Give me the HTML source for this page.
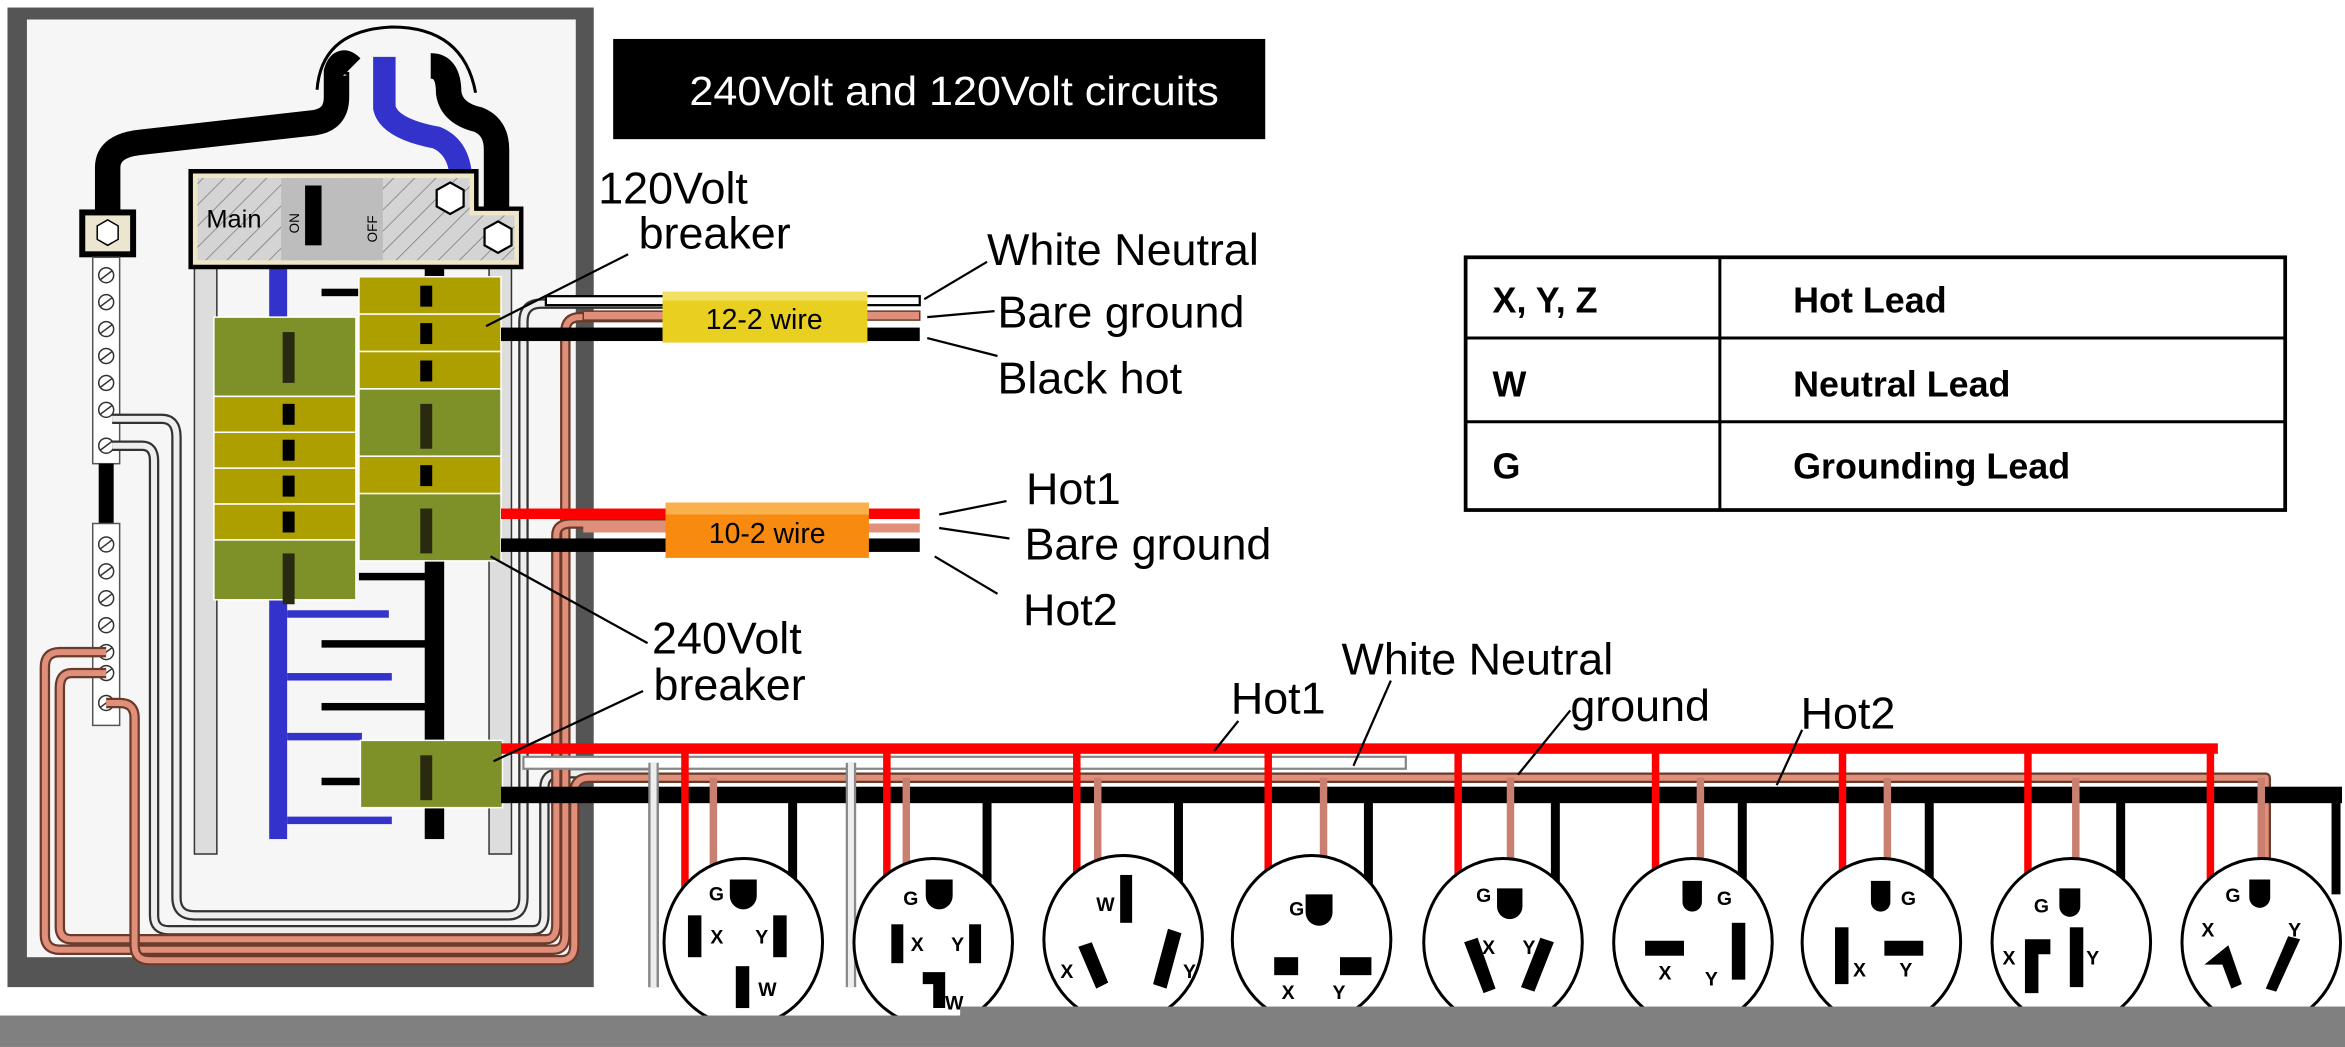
<!DOCTYPE html>
<html><head><meta charset="utf-8"><style>
html,body{margin:0;padding:0;background:#fff;}
svg{display:block;}
text{font-family:"Liberation Sans",sans-serif;}
</style></head><body>
<svg width="2345" height="1047" viewBox="0 0 1568 700" xmlns="http://www.w3.org/2000/svg">
<defs>
<pattern id="h" width="10" height="10" patternUnits="userSpaceOnUse" patternTransform="rotate(45)"><rect width="10" height="10" fill="#d4d4d4"/><line x1="0" y1="0" x2="0" y2="10" stroke="#777" stroke-width="1"/></pattern>
</defs>
<rect width="1568" height="700" fill="#fff"/>
<!-- panel -->
<rect x="5" y="5" width="392" height="655" fill="#555"/>
<rect x="18" y="13" width="367" height="627" fill="#f6f6f6"/>
<!-- service cables -->
<path d="M212 60 Q215 20 262 18 Q310 18 318 62" fill="none" stroke="#000" stroke-width="2"/>
<path d="M72 142 L72 112 Q72 97 95 95 L210 82 Q225 80 225 65 L225 48 Q228 38 235 45" fill="none" stroke="#000" stroke-width="17"/>
<path d="M288 44 Q300 44 300 62 Q302 76 320 80 Q332 85 332 100 L332 146" fill="none" stroke="#000" stroke-width="17"/>
<path d="M257 38 L257 72 Q260 86 292 92 Q306 98 308 116" fill="none" stroke="#33c" stroke-width="15"/>
<!-- rails -->
<rect x="130" y="178" width="15" height="393" fill="#ddd" stroke="#333"/>
<rect x="327" y="178" width="15" height="393" fill="#ddd" stroke="#333"/>
<rect x="180" y="178" width="12" height="383" fill="#33c"/>
<rect x="284" y="178" width="13" height="383" fill="#000"/>
<g fill="#33c"><rect x="192" y="408" width="68" height="5"/><rect x="192" y="450" width="70" height="5"/><rect x="192" y="490" width="50" height="5"/><rect x="192" y="546" width="70" height="5"/></g>
<g fill="#000"><rect x="215" y="193" width="70" height="5"/><rect x="215" y="428" width="70" height="5"/><rect x="215" y="470" width="70" height="5"/><rect x="215" y="520" width="30" height="5"/><rect x="240" y="383" width="45" height="5"/></g>
<!-- main breaker -->
<path d="M126 113 H320 V138 H350 V180 H126Z" fill="#000"/>
<path d="M129 116 H317 V141 H347 V177 H129Z" fill="#efe6c8"/>
<path d="M132 119 H314 V144 H344 V174 H132Z" fill="url(#h)"/>
<rect x="188" y="119" width="68" height="55" fill="#bdbdbd"/>
<rect x="204" y="124" width="11" height="40" fill="#000"/>
<text x="138" y="152" font-size="17">Main</text>
<text x="200" y="156" font-size="9" transform="rotate(-90 200 156)">ON</text>
<text x="252" y="162" font-size="9" transform="rotate(-90 252 162)">OFF</text>
<polygon points="301,122 310,127 310,138 301,143 292,138 292,127" fill="#fff" stroke="#000" stroke-width="1.5"/>
<polygon points="333,148 342,153 342,164 333,169 324,164 324,153" fill="#fff" stroke="#000" stroke-width="1.5"/>
<!-- neutral bars -->
<rect x="53" y="140" width="38" height="32" fill="#000"/>
<rect x="57" y="144" width="30" height="24" fill="#ece6d0"/>
<polygon points="72,147 79,151 79,160 72,164 65,160 65,151" fill="#fff" stroke="#000"/>
<rect x="62" y="172" width="18" height="138" fill="#fff" stroke="#555"/>
<rect x="66" y="310" width="10" height="40" fill="#000"/>
<rect x="62" y="350" width="18" height="135" fill="#fff" stroke="#555"/>
<g fill="#fff" stroke="#333"><circle cx="71" cy="184" r="5"/><circle cx="71" cy="202" r="5"/><circle cx="71" cy="220" r="5"/><circle cx="71" cy="238" r="5"/><circle cx="71" cy="256" r="5"/><circle cx="71" cy="274" r="5"/><circle cx="71" cy="298" r="5"/><circle cx="71" cy="364" r="5"/><circle cx="71" cy="382" r="5"/><circle cx="71" cy="400" r="5"/><circle cx="71" cy="418" r="5"/><circle cx="71" cy="436" r="5"/><circle cx="71" cy="450" r="5"/><circle cx="71" cy="470" r="5"/></g>
<g stroke="#333" stroke-width="1"><line x1="67" y1="187" x2="75" y2="181"/><line x1="67" y1="205" x2="75" y2="199"/><line x1="67" y1="223" x2="75" y2="217"/><line x1="67" y1="241" x2="75" y2="235"/><line x1="67" y1="259" x2="75" y2="253"/><line x1="67" y1="277" x2="75" y2="271"/><line x1="67" y1="301" x2="75" y2="295"/><line x1="67" y1="367" x2="75" y2="361"/><line x1="67" y1="385" x2="75" y2="379"/><line x1="67" y1="403" x2="75" y2="397"/><line x1="67" y1="421" x2="75" y2="415"/><line x1="67" y1="439" x2="75" y2="433"/><line x1="67" y1="453" x2="75" y2="447"/><line x1="67" y1="473" x2="75" y2="467"/></g>
<!-- panel wiring loops -->
<g fill="none" stroke-linejoin="round">
<path d="M75 280 L108 280 Q118 280 118 292 L118 600 Q118 612 130 612 L340 612 Q350 612 350 600 L350 215 Q350 203 362 203 L450 203" stroke="#333" stroke-width="7"/>
<path d="M75 280 L108 280 Q118 280 118 292 L118 600 Q118 612 130 612 L340 612 Q350 612 350 600 L350 215 Q350 203 362 203 L450 203" stroke="#eee" stroke-width="4"/>
<path d="M75 298 L95 298 Q103 298 103 308 L103 612 Q103 622 113 622 L356 622 Q364 622 364 612 L364 527 Q364 517 374 517 L437 517 L437 660" stroke="#333" stroke-width="7"/>
<path d="M75 298 L95 298 Q103 298 103 308 L103 612 Q103 622 113 622 L356 622 Q364 622 364 612 L364 527 Q364 517 374 517 L437 517 L437 660" stroke="#eee" stroke-width="4"/>
<path d="M71 436 L40 436 Q30 436 30 446 L30 625 Q30 635 40 635 L370 635 Q378 635 378 625 L378 222 Q378 212 388 212 L450 212" stroke="#6a3a2a" stroke-width="7"/>
<path d="M71 436 L40 436 Q30 436 30 446 L30 625 Q30 635 40 635 L370 635 Q378 635 378 625 L378 222 Q378 212 388 212 L450 212" stroke="#e0907a" stroke-width="4"/>
<path d="M71 450 L48 450 Q40 450 40 460 L40 620 Q40 628 48 628 L365 628 Q372 628 372 618 L372 358 Q372 350 382 350 L450 350" stroke="#6a3a2a" stroke-width="7"/>
<path d="M71 450 L48 450 Q40 450 40 460 L40 620 Q40 628 48 628 L365 628 Q372 628 372 618 L372 358 Q372 350 382 350 L450 350" stroke="#e0907a" stroke-width="4"/>
<path d="M71 470 L80 470 Q90 470 90 480 L90 632 Q90 642 100 642 L375 642 Q384 642 384 632 L384 530 Q384 520 394 520 L1515 520 L1515 590" stroke="#6a3a2a" stroke-width="7"/>
<path d="M71 470 L80 470 Q90 470 90 480 L90 632 Q90 642 100 642 L375 642 Q384 642 384 632 L384 530 Q384 520 394 520 L1515 520 L1515 590" stroke="#e0907a" stroke-width="4"/>
</g>
<!-- breakers -->
<g stroke="#fff" stroke-width="1">
<rect x="143" y="212" width="95" height="53" fill="#7e9128"/>
<rect x="143" y="265" width="95" height="24" fill="#ad9f00"/>
<rect x="143" y="289" width="95" height="24" fill="#ad9f00"/>
<rect x="143" y="313" width="95" height="24" fill="#ad9f00"/>
<rect x="143" y="337" width="95" height="24" fill="#ad9f00"/>
<rect x="143" y="361" width="95" height="40" fill="#7e9128"/>
<rect x="240" y="185" width="95" height="25" fill="#ad9f00"/>
<rect x="240" y="210" width="95" height="25" fill="#ad9f00"/>
<rect x="240" y="235" width="95" height="25" fill="#ad9f00"/>
<rect x="240" y="260" width="95" height="45" fill="#7e9128"/>
<rect x="240" y="305" width="95" height="25" fill="#ad9f00"/>
<rect x="240" y="330" width="95" height="45" fill="#7e9128"/>
<rect x="241" y="495" width="95" height="45" fill="#7e9128"/>
</g>
<g fill="#2a2a10"><rect x="189" y="222" width="8" height="34"/><rect x="189" y="370" width="8" height="34"/><rect x="281" y="270" width="8" height="30"/><rect x="281" y="340" width="8" height="30"/><rect x="281" y="505" width="8" height="30"/></g>
<g fill="#000"><rect x="189" y="270" width="8" height="14"/><rect x="189" y="294" width="8" height="14"/><rect x="189" y="318" width="8" height="14"/><rect x="189" y="342" width="8" height="14"/><rect x="281" y="191" width="8" height="14"/><rect x="281" y="216" width="8" height="14"/><rect x="281" y="241" width="8" height="14"/><rect x="281" y="311" width="8" height="14"/></g>
<!-- 12-2 wire -->
<rect x="335" y="219" width="280" height="9" fill="#000"/>
<rect x="365" y="198" width="250" height="6" fill="#fff" stroke="#000" stroke-width="1.5"/>
<rect x="390" y="208" width="225" height="6" fill="#e0907a" stroke="#6a3a2a" stroke-width="1"/>
<rect x="443" y="195" width="137" height="34" fill="#e8cf20"/>
<rect x="443" y="195" width="137" height="6" fill="#f3e060"/>
<text x="511" y="220" font-size="19" text-anchor="middle">12-2 wire</text>
<!-- 10-2 wire -->
<rect x="335" y="340" width="280" height="7" fill="#f00"/>
<rect x="335" y="360" width="280" height="9" fill="#000"/>
<rect x="390" y="350" width="225" height="6" fill="#e0907a"/>
<rect x="445" y="336" width="136" height="37" fill="#f98a10"/>
<rect x="445" y="336" width="136" height="8" fill="#fbb050"/>
<text x="513" y="363" font-size="19" text-anchor="middle">10-2 wire</text>
<!-- long runs -->
<rect x="335" y="497" width="1148" height="7" fill="#f00"/>
<rect x="350" y="506" width="590" height="8" fill="#fff" stroke="#888" stroke-width="1.5"/>
<rect x="335" y="526" width="1231" height="11" fill="#000"/>
<path d="M569 510 L569 660" stroke="#888" stroke-width="7" fill="none"/><path d="M569 510 L569 660" stroke="#eee" stroke-width="4" fill="none"/>
<path d="M437 510 L437 660" stroke="#888" stroke-width="7" fill="none"/><path d="M437 510 L437 660" stroke="#eee" stroke-width="4" fill="none"/>
<g stroke="#f00" stroke-width="5"><line x1="458" y1="500" x2="458" y2="598"/><line x1="593" y1="500" x2="593" y2="598"/><line x1="720" y1="500" x2="720" y2="598"/><line x1="848" y1="500" x2="848" y2="598"/><line x1="975" y1="500" x2="975" y2="598"/><line x1="1107" y1="500" x2="1107" y2="598"/><line x1="1232" y1="500" x2="1232" y2="598"/><line x1="1356" y1="500" x2="1356" y2="598"/><line x1="1478" y1="500" x2="1478" y2="598"/></g>
<g stroke="#000" stroke-width="6"><line x1="530" y1="530" x2="530" y2="598"/><line x1="660" y1="530" x2="660" y2="598"/><line x1="788" y1="530" x2="788" y2="598"/><line x1="915" y1="530" x2="915" y2="598"/><line x1="1040" y1="530" x2="1040" y2="598"/><line x1="1165" y1="530" x2="1165" y2="598"/><line x1="1290" y1="530" x2="1290" y2="598"/><line x1="1418" y1="530" x2="1418" y2="598"/><line x1="1562" y1="530" x2="1562" y2="598"/></g>
<g stroke="#c98070" stroke-width="5"><line x1="477" y1="520" x2="477" y2="580"/><line x1="606" y1="520" x2="606" y2="580"/><line x1="734" y1="520" x2="734" y2="580"/><line x1="885" y1="520" x2="885" y2="580"/><line x1="1010" y1="520" x2="1010" y2="580"/><line x1="1137" y1="520" x2="1137" y2="580"/><line x1="1262" y1="520" x2="1262" y2="580"/><line x1="1388" y1="520" x2="1388" y2="580"/><line x1="1512" y1="520" x2="1512" y2="580"/></g>
<!-- receptacles -->
<g fill="#fff" stroke="#000" stroke-width="2">
<ellipse cx="497" cy="630" rx="53" ry="56"/><ellipse cx="624" cy="630" rx="53" ry="56"/><ellipse cx="751" cy="628" rx="53" ry="56"/><ellipse cx="877" cy="628" rx="53" ry="56"/><ellipse cx="1005" cy="630" rx="53" ry="56"/><ellipse cx="1132" cy="630" rx="53" ry="56"/><ellipse cx="1258" cy="630" rx="53" ry="56"/><ellipse cx="1385" cy="630" rx="53" ry="56"/><ellipse cx="1512" cy="630" rx="53" ry="56"/>
</g>
<g fill="#000" font-size="13" font-weight="bold">
<path d="M488 588 h18 v11 a9 9 0 0 1 -18 0z"/><text x="474" y="602">G</text>
<rect x="460" y="612" width="9" height="28"/><rect x="517" y="612" width="9" height="28"/><text x="475" y="631">X</text><text x="505" y="631">Y</text>
<rect x="492" y="646" width="9" height="28"/><text x="507" y="666">W</text>
<path d="M619 588 h18 v11 a9 9 0 0 1 -18 0z"/><text x="604" y="605">G</text>
<rect x="596" y="618" width="8" height="26"/><rect x="648" y="618" width="8" height="26"/><text x="609" y="636">X</text><text x="636" y="636">Y</text>
<path d="M617 650 h15 v24 h-8 v-16 h-7z"/><text x="632" y="675">W</text>
<rect x="749" y="585" width="8" height="32"/><text x="733" y="609">W</text>
<polygon points="721,633 730,630 741,657 733,661"/><polygon points="781,621 790,624 780,661 771,658"/><text x="709" y="654">X</text><text x="791" y="654">Y</text>
<path d="M873 598 h18 v12 a9 9 0 0 1 -18 0z"/><text x="862" y="612">G</text>
<rect x="852" y="640" width="16" height="12"/><rect x="896" y="640" width="21" height="12"/><text x="857" y="668">X</text><text x="891" y="668">Y</text>
<path d="M1001 594 h17 v12 a8.5 8.5 0 0 1 -17 0z"/><text x="987" y="603">G</text>
<polygon points="979,630 988,627 1000,661 992,664"/><polygon points="1030,627 1039,630 1026,663 1017,660"/><text x="991" y="638">X</text><text x="1018" y="638">Y</text>
<path d="M1125 589 h13 v14 a6.5 6.5 0 0 1 -13 0z"/><text x="1148" y="605">G</text>
<rect x="1100" y="629" width="26" height="10"/><rect x="1158" y="617" width="9" height="38"/><text x="1109" y="655">X</text><text x="1140" y="659">Y</text>
<path d="M1251 589 h13 v14 a6.5 6.5 0 0 1 -13 0z"/><text x="1271" y="605">G</text>
<rect x="1227" y="620" width="9" height="38"/><rect x="1260" y="629" width="26" height="10"/><text x="1239" y="653">X</text><text x="1270" y="653">Y</text>
<path d="M1377 594 h14 v12 a7 7 0 0 1 -14 0z"/><text x="1360" y="610">G</text>
<path d="M1354 628 h17 v10 h-8 v26 h-9z"/><rect x="1384" y="620" width="9" height="40"/><text x="1339" y="645">X</text><text x="1395" y="645">Y</text>
<path d="M1504 588 h14 v12 a7 7 0 0 1 -14 0z"/><text x="1488" y="603">G</text>
<polygon points="1474,645 1490,632 1499,658 1492,661 1486,645"/><polygon points="1530,626 1538,628 1522,663 1515,661"/><text x="1472" y="626">X</text><text x="1530" y="626">Y</text>
</g>
<!-- bottom gray bar -->
<rect x="0" y="679" width="1568" height="21" fill="#808080"/>
<rect x="642" y="673" width="926" height="27" fill="#808080"/>
<!-- title -->
<rect x="410" y="26" width="436" height="67" fill="#000"/>
<text x="638" y="70" font-size="27" fill="#fff" text-anchor="middle" font-family="DejaVu Sans, sans-serif" textLength="354" lengthAdjust="spacingAndGlyphs">240Volt and 120Volt circuits</text>
<!-- table -->
<rect x="980" y="172" width="548" height="169" fill="#fff" stroke="#000" stroke-width="2.5"/>
<line x1="980" y1="226" x2="1528" y2="226" stroke="#000" stroke-width="2"/>
<line x1="980" y1="282" x2="1528" y2="282" stroke="#000" stroke-width="2"/>
<line x1="1150" y1="172" x2="1150" y2="341" stroke="#000" stroke-width="2"/>
<g font-size="24" font-weight="bold">
<text x="998" y="209">X, Y, Z</text><text x="1199" y="209">Hot Lead</text>
<text x="998" y="265">W</text><text x="1199" y="265">Neutral Lead</text>
<text x="998" y="320">G</text><text x="1199" y="320">Grounding Lead</text>
</g>
<!-- callouts -->
<g stroke="#000" stroke-width="1.5" fill="none">
<line x1="325" y1="218" x2="420" y2="170"/>
<line x1="618" y1="200" x2="660" y2="175"/>
<line x1="620" y1="212" x2="665" y2="208"/>
<line x1="620" y1="226" x2="667" y2="238"/>
<line x1="628" y1="344" x2="673" y2="335"/>
<line x1="628" y1="353" x2="675" y2="360"/>
<line x1="625" y1="372" x2="667" y2="397"/>
<line x1="328" y1="372" x2="433" y2="430"/>
<line x1="330" y1="509" x2="430" y2="462"/>
<line x1="812" y1="502" x2="828" y2="482"/>
<line x1="905" y1="512" x2="930" y2="455"/>
<line x1="1015" y1="518" x2="1050" y2="475"/>
<line x1="1188" y1="525" x2="1205" y2="488"/>
</g>
<g font-size="30" font-family="DejaVu Sans Condensed, DejaVu Sans, sans-serif">
<text x="400" y="136">120Volt</text><text x="427" y="166">breaker</text>
<text x="660" y="177">White Neutral</text>
<text x="667" y="219">Bare ground</text>
<text x="667" y="263">Black hot</text>
<text x="686" y="337">Hot1</text>
<text x="685" y="374">Bare ground</text>
<text x="684" y="418">Hot2</text>
<text x="436" y="437">240Volt</text><text x="437" y="468">breaker</text>
<text x="823" y="477">Hot1</text>
<text x="897" y="451">White Neutral</text>
<text x="1050" y="482">ground</text>
<text x="1204" y="487">Hot2</text>
</g>
</svg>
</body></html>
